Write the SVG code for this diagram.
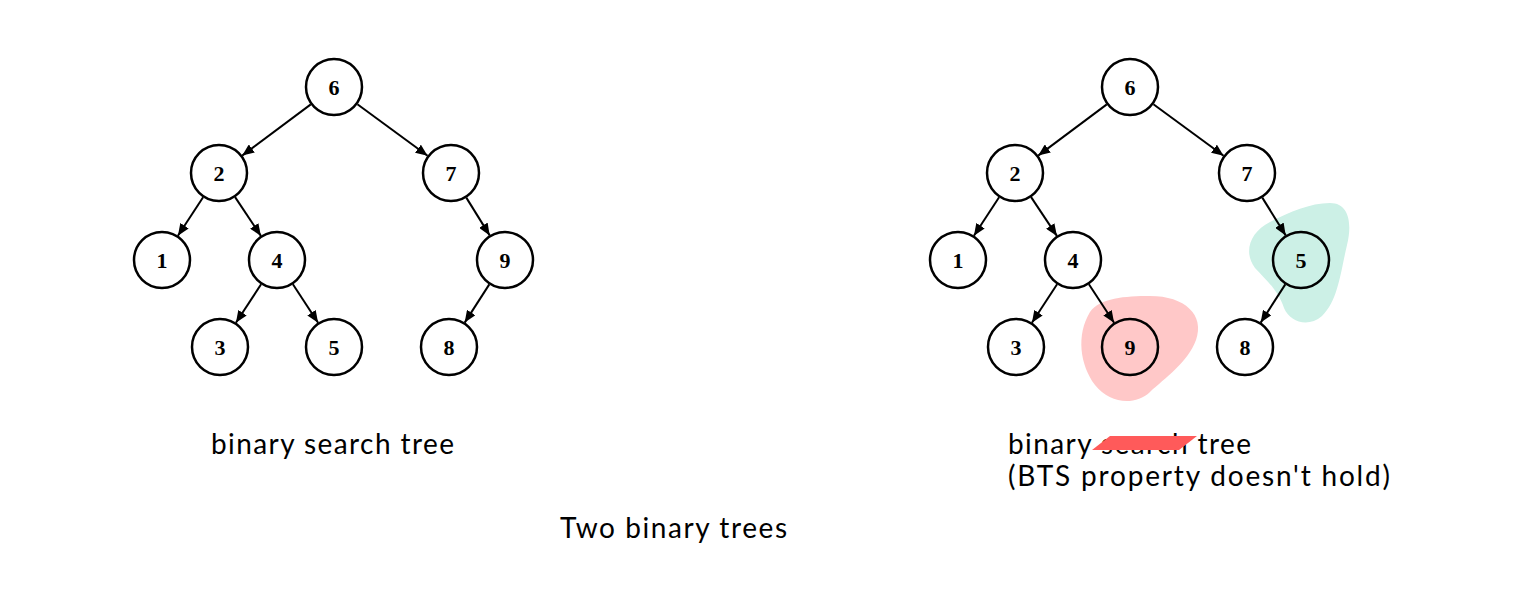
<svg xmlns="http://www.w3.org/2000/svg" width="1515" height="600" viewBox="0 0 1515 600">
<style>
.node circle{fill:none;stroke:#000;stroke-width:2.5}
.node text{font-family:"Liberation Serif",serif;font-weight:bold;font-size:22px;text-anchor:middle}
.edge{stroke:#000;stroke-width:2;fill:none;marker-end:url(#arr)}
.lbl{font-family:Lato,"Open Sans",sans-serif;font-size:28px;fill:#000}
</style>
<defs>
<marker id="arr" viewBox="0 0 12 10" refX="12" refY="5" markerWidth="6" markerHeight="5" orient="auto" markerUnits="strokeWidth">
<path d="M0,0 L12,5 L0,10 Z" fill="#000"/>
</marker>
</defs>
<rect width="1515" height="600" fill="#fff"/>
<g id="highlights">
<path d="M 1150 296 C 1185 296, 1205 315, 1196 340 C 1188 362, 1165 378, 1150 392 C 1135 406, 1110 404, 1095 385 C 1080 365, 1076 335, 1090 312 C 1100 298, 1125 296, 1150 296 Z" fill="#ffc8c8"/>
<path d="M 1330 203 C 1350 203, 1352 225, 1347 245 C 1340 275, 1338 300, 1322 316 C 1308 328, 1290 322, 1284 308 C 1278 290, 1266 280, 1255 268 C 1243 252, 1250 232, 1270 222 C 1290 212, 1310 203, 1330 203 Z" fill="#ccf0e6"/>
</g>
<g id="connectors">
<line class="edge" x1="310.8" y1="104.4" x2="242.2" y2="155.6"/>
<line class="edge" x1="357.4" y1="104.2" x2="427.6" y2="155.8"/>
<line class="edge" x1="203.1" y1="197.3" x2="177.9" y2="235.7"/>
<line class="edge" x1="235.1" y1="197.1" x2="260.9" y2="235.9"/>
<line class="edge" x1="466.3" y1="197.6" x2="489.7" y2="235.4"/>
<line class="edge" x1="261.1" y1="284.3" x2="235.9" y2="322.7"/>
<line class="edge" x1="292.9" y1="284.3" x2="318.1" y2="322.7"/>
<line class="edge" x1="489.3" y1="284.4" x2="464.7" y2="322.6"/>
<line class="edge" x1="1106.8" y1="104.4" x2="1038.2" y2="155.6"/>
<line class="edge" x1="1153.4" y1="104.2" x2="1223.6" y2="155.8"/>
<line class="edge" x1="999.1" y1="197.3" x2="973.9" y2="235.7"/>
<line class="edge" x1="1031.1" y1="197.1" x2="1056.9" y2="235.9"/>
<line class="edge" x1="1262.3" y1="197.6" x2="1285.7" y2="235.4"/>
<line class="edge" x1="1057.1" y1="284.3" x2="1031.9" y2="322.7"/>
<line class="edge" x1="1088.9" y1="284.3" x2="1114.1" y2="322.7"/>
<line class="edge" x1="1285.3" y1="284.4" x2="1260.7" y2="322.6"/>
</g>
<g id="L6" class="node"><circle cx="334" cy="87" r="28"/><text x="334" y="94.5">6</text></g>
<g id="L2" class="node"><circle cx="219" cy="173" r="28"/><text x="219" y="180.5">2</text></g>
<g id="L7" class="node"><circle cx="451" cy="173" r="28"/><text x="451" y="180.5">7</text></g>
<g id="L1" class="node"><circle cx="162" cy="260" r="28"/><text x="162" y="267.5">1</text></g>
<g id="L4" class="node"><circle cx="277" cy="260" r="28"/><text x="277" y="267.5">4</text></g>
<g id="L9" class="node"><circle cx="505" cy="260" r="28"/><text x="505" y="267.5">9</text></g>
<g id="L3" class="node"><circle cx="220" cy="347" r="28"/><text x="220" y="354.5">3</text></g>
<g id="L5" class="node"><circle cx="334" cy="347" r="28"/><text x="334" y="354.5">5</text></g>
<g id="L8" class="node"><circle cx="449" cy="347" r="28"/><text x="449" y="354.5">8</text></g>
<g id="R6" class="node"><circle cx="1130" cy="87" r="28"/><text x="1130" y="94.5">6</text></g>
<g id="R2" class="node"><circle cx="1015" cy="173" r="28"/><text x="1015" y="180.5">2</text></g>
<g id="R7" class="node"><circle cx="1247" cy="173" r="28"/><text x="1247" y="180.5">7</text></g>
<g id="R1" class="node"><circle cx="958" cy="260" r="28"/><text x="958" y="267.5">1</text></g>
<g id="R4" class="node"><circle cx="1073" cy="260" r="28"/><text x="1073" y="267.5">4</text></g>
<g id="R5" class="node"><circle cx="1301" cy="260" r="28"/><text x="1301" y="267.5">5</text></g>
<g id="R3" class="node"><circle cx="1016" cy="347" r="28"/><text x="1016" y="354.5">3</text></g>
<g id="R9" class="node"><circle cx="1130" cy="347" r="28"/><text x="1130" y="354.5">9</text></g>
<g id="R8" class="node"><circle cx="1245" cy="347" r="28"/><text x="1245" y="354.5">8</text></g>
<g id="labels">
<text class="lbl" x="211" y="454" textLength="243">binary search tree</text>
<text class="lbl" x="1008" y="454" textLength="243">binary search tree</text>
<text class="lbl" x="1008" y="486" textLength="382">(BTS property doesn't hold)</text>
<polygon points="1110,436 1197,436 1179,450 1092,450" fill="#ff5a5a"/>
<text class="lbl" x="560" y="538" textLength="227">Two binary trees</text>
</g>
</svg>
